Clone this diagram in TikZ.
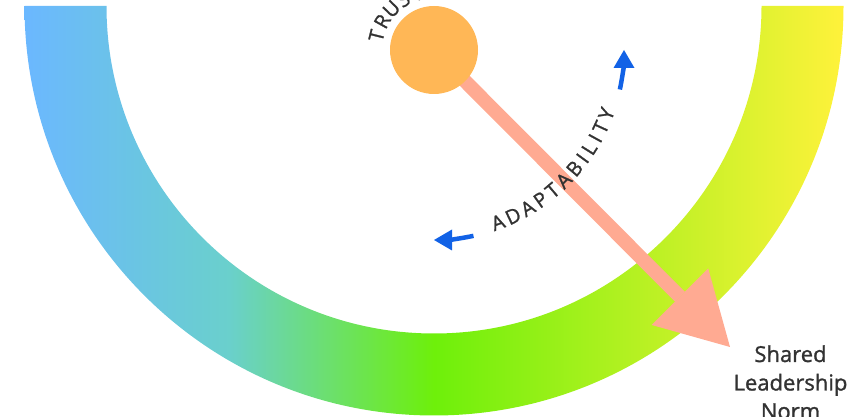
\documentclass[tikz,border=0pt]{standalone}
\usepackage{fontspec}
\setmainfont{Open Sans}
\newfontfamily\heavyfont[FakeBold=1.2]{Open Sans}
\usetikzlibrary{arrows.meta}
\definecolor{salmon}{RGB}{255,170,146}
\definecolor{trustorange}{RGB}{255,183,86}
\definecolor{arrowblue}{RGB}{18,98,230}
\definecolor{labelgray}{RGB}{50,50,50}
\pgfdeclarehorizontalshading{ringshade}{100bp}{rgb(0bp)=(0.42,0.72,1);
  rgb(25bp)=(0.42,0.72,1);
  rgb(37.5bp)=(0.415,0.815,0.80);
  rgb(50bp)=(0.43,0.94,0.04);
  rgb(75bp)=(1,0.95,0.23);
  rgb(100bp)=(1,0.95,0.23)}
\tikzset{
  arcletter/.style={inner sep=0pt, text=labelgray, font=\heavyfont\fontsize{20}{20}\selectfont},
  bluearc/.style={line width=4.5pt, draw=arrowblue, -{Triangle[length=18pt,width=21pt,line width=0pt]}},
  bigarrow/.style={line width=14pt, draw=salmon, -{Triangle[length=71pt,width=80pt,line width=0pt]}},
  trustdot/.style={circle, fill=trustorange, minimum size=88pt, inner sep=0pt},
  normlabel/.style={align=center, text=labelgray, inner sep=0pt, font=\heavyfont\fontsize{22}{28.5}\selectfont}
}
\begin{document}
\begin{tikzpicture}[x=1pt,y=1pt]
\useasboundingbox (0,0) rectangle (856,417);
\clip (0,0) rectangle (856,417);
\coordinate (rc) at (434,411);
\coordinate (tc) at (434,367);
\coordinate (tip) at (730,70);
% gradient ring
\shade[shading=ringshade] ([shift={(180:409.5pt)}]rc) arc[start angle=180,end angle=360,radius=409.5pt]
  -- ([shift={(0:327.5pt)}]rc) arc[start angle=0,end angle=-180,radius=327.5pt] -- cycle;
% big arrow
\draw[bigarrow] (tc) -- (tip);
% trust circle
\node[trustdot] (trust) at (tc) {};
% blue arrows
\draw[bluearc] ([shift={(-78:190pt)}]tc) arc[start angle=-78, end angle=-90, radius=190pt];
\draw[bluearc] ([shift={(-12:190pt)}]tc) arc[start angle=-12, end angle=0, radius=190pt];
% ADAPTABILITY
\foreach \l/\a [count=\i] in {A/-69.66, D/-64.51, A/-59.35, P/-54.51, T/-49.85, A/-45.12, B/-40.16, I/-36.11, L/-32.40, I/-28.70, T/-24.88, Y/-20.33}
  \node[arcletter, rotate=\a+90, anchor=base] (ad\i) at ([shift={(\a:191pt)}]tc) {\l};
% TRUST
\foreach \l/\a [count=\i] in {T/166, R/151, U/136, S/121, T/106}
  \node[arcletter, rotate=\a-90, anchor=base] (tr\i) at ([shift={(\a:52pt)}]tc) {\l};
% label
\node[normlabel, anchor=base] (norm) at (790.5,-2) {Shared\\Leadership\\Norm};
\end{tikzpicture}
\end{document}
